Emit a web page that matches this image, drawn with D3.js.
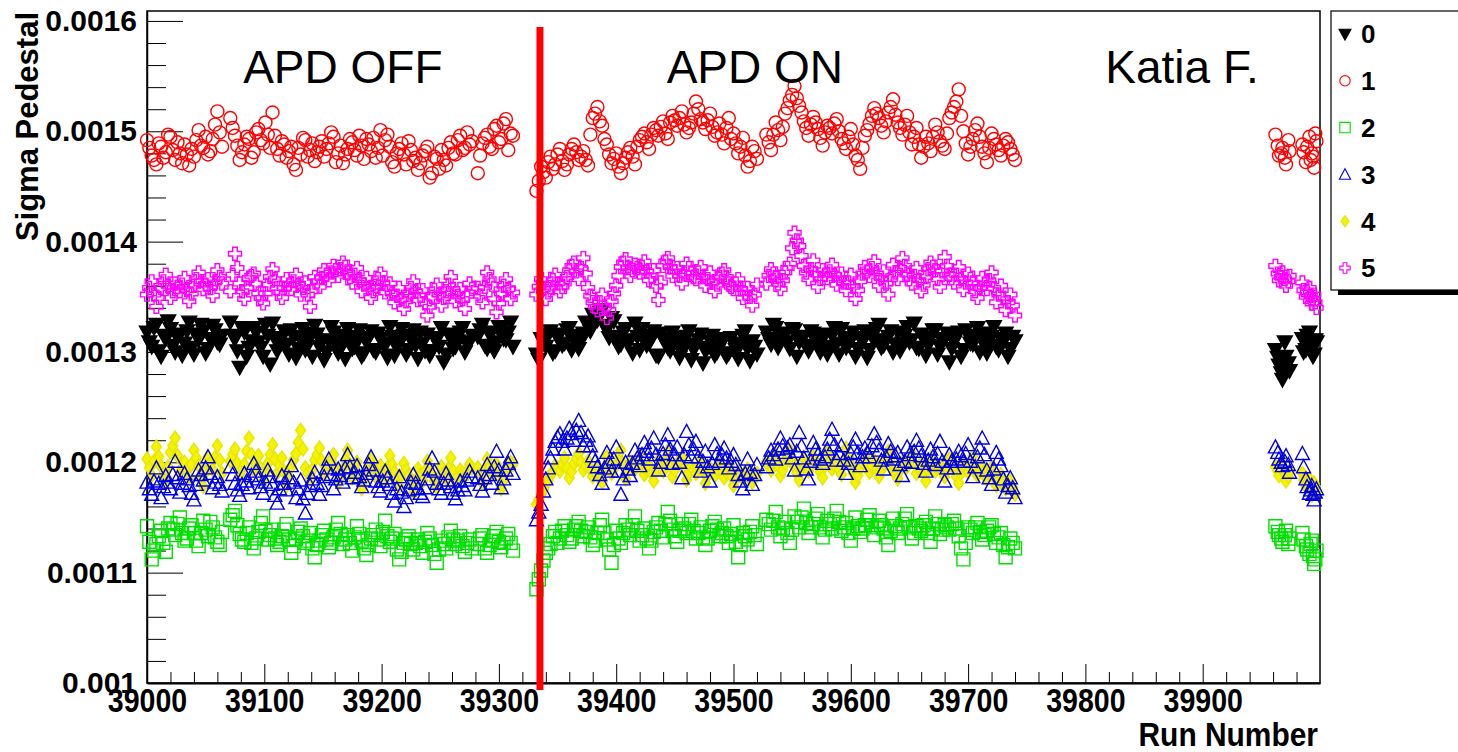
<!DOCTYPE html>
<html>
<head>
<meta charset="utf-8">
<script src="https://cdn.jsdelivr.net/npm/d3@7"></script>
<style>
body { margin: 0; background: #fff; }
svg text { font-family: "Liberation Sans", Arial, Helvetica, sans-serif; }
</style>
</head>
<body>
<script>
// run numbers, first pass (every 4th run)
const runs = [
  39000,39004,39008,39012,39016,39020,39024,39028,39032,39036,39040,39044,39048,39052,39056,39060,39064,
  39071,39075,39079,39083,39087,39091,39095,39099,39103,39107,39111,39115,39119,39123,39127,39131,39135,39139,39143,39147,
  39151,39155,39159,39163,39167,39171,39175,39179,39183,39187,39191,39195,39199,39203,39207,39211,39215,39219,39223,39227,
  39231,39235,39239,39243,39247,39251,39255,39259,39263,39267,39271,39275,
  39282,39286,39290,39294,39298,39302,39306,39310,
  39332,39336,39340,39344,39348,39352,39356,39360,39364,39368,39372,39376,39380,39384,39388,39392,39396,39400,39404,39408,
  39412,39416,39420,39424,39428,39432,39436,39440,39444,39448,39452,39456,39460,39464,39468,39472,39476,39480,39484,39488,
  39492,39496,39500,39504,39508,39512,39516,39520,
  39528,39532,39536,39540,39544,39548,39552,39556,39560,39564,39568,39572,39576,39580,39584,39588,39592,39596,39600,39604,
  39608,39612,39616,39620,39624,39628,39632,39636,39640,39644,39648,39652,39656,39660,39664,39668,39672,39676,39680,39684,
  39688,39692,39696,39700,39704,39708,39712,39716,39720,39724,39728,39732,39736,39740,
  39962,39965,39968,39971,39974,
  39985,39988,39991,39993,39995,39997
];
// run numbers, second pass (the runs in between)
const runs2 = [
  39002,39006,39010,39014,39018,39022,39026,39030,39034,39038,39042,39046,39050,39054,39058,39062,
  39073,39077,39081,39085,39089,39093,39097,39101,39105,39109,39113,39117,39121,39125,39129,39133,39137,39141,39145,39149,
  39153,39157,39161,39165,39169,39173,39177,39181,39185,39189,39193,39197,39201,39205,39209,39213,39217,39221,39225,39229,
  39233,39237,39241,39245,39249,39253,39257,39261,39265,39269,39273,39277,
  39284,39288,39292,39296,39300,39304,39308,39312,
  39334,39338,39342,39346,39350,39354,39358,39362,39366,39370,39374,39378,39382,39386,39390,39394,39398,39402,39406,39410,
  39414,39418,39422,39426,39430,39434,39438,39442,39446,39450,39454,39458,39462,39466,39470,39474,39478,39482,39486,39490,
  39494,39498,39502,39506,39510,39514,39518,
  39530,39534,39538,39542,39546,39550,39554,39558,39562,39566,39570,39574,39578,39582,39586,39590,39594,39598,39602,39606,
  39610,39614,39618,39622,39626,39630,39634,39638,39642,39646,39650,39654,39658,39662,39666,39670,39674,39678,39682,39686,
  39690,39694,39698,39702,39706,39710,39714,39718,39722,39726,39730,39734,39738,
  39964,39967,39970,39973,
  39986,39989,39992,39994,39996
];

// sigma pedestal per channel (first pass)
const ch0 = [
  0.001318,0.001305,0.001325,0.001296,0.001312,0.001321,0.001300,0.001316,0.001308,0.001327,0.001298,0.001311,0.001319,0.001303,0.001324,0.001309,0.001315,
  0.001327,0.001312,0.001286,0.001318,0.001304,0.001322,0.001309,0.001296,0.001315,0.001326,
  0.001301,0.001313,0.001307,0.001320,0.001295,0.001311,0.001302,0.001317,0.001324,0.001305,
  0.001293,0.001310,0.001318,0.001299,0.001308,0.001321,0.001303,0.001314,0.001296,0.001309,
  0.001319,0.001300,0.001312,0.001306,0.001323,0.001297,0.001310,0.001315,0.001302,0.001320,
  0.001294,0.001308,0.001316,0.001301,0.001311,0.001322,0.001298,0.001313,0.001305,0.001318,
  0.001300,0.001309,
  0.001314,0.001325,0.001303,0.001318,0.001309,0.001322,0.001311,0.001327,
  0.001298,0.001312,0.001305,0.001319,0.001301,0.001316,0.001308,0.001322,0.001311,0.001303,
  0.001317,0.001325,0.001334,0.001329,0.001338,0.001320,0.001331,0.001314,0.001307,0.001321,
  0.001311,0.001326,0.001302,0.001315,0.001308,0.001319,0.001296,0.001312,0.001304,0.001318,
  0.001309,0.001300,0.001314,0.001293,0.001307,0.001316,0.001301,0.001310,0.001297,0.001305,
  0.001312,0.001299,0.001308,0.001294,0.001315,0.001303,0.001310,0.001298,
  0.001318,0.001307,0.001322,0.001311,0.001316,0.001303,0.001320,0.001309,0.001314,0.001301,
  0.001317,0.001306,0.001312,0.001298,0.001315,0.001308,0.001321,0.001304,0.001311,0.001296,
  0.001313,0.001319,0.001302,0.001310,0.001325,0.001306,0.001314,0.001300,0.001318,0.001308,
  0.001323,0.001311,0.001304,0.001316,0.001297,0.001313,0.001320,0.001305,0.001312,0.001291,
  0.001309,0.001318,0.001302,0.001315,0.001307,0.001322,0.001310,0.001299,0.001314,0.001305,
  0.001312,0.001317,0.001303,0.001310,
  0.001302,0.001288,0.001275,0.001296,0.001283,
  0.001312,0.001302,0.001318,0.001305,0.001298,0.001309
];
const ch1 = [
  0.001492,0.001478,0.001470,0.001486,0.001481,0.001495,0.001474,0.001480,0.001488,0.001469,0.001477,0.001501,0.001485,0.001479,0.001493,0.001518,0.001486,
  0.001512,0.001496,0.001474,0.001488,0.001493,0.001481,0.001502,0.001489,0.001497,0.001517,
  0.001484,0.001491,0.001476,0.001486,0.001465,0.001479,0.001492,0.001483,0.001473,0.001486,
  0.001477,0.001489,0.001495,0.001480,0.001471,0.001484,0.001490,0.001478,0.001487,0.001493,
  0.001482,0.001476,0.001501,0.001492,0.001486,0.001468,0.001484,0.001479,0.001491,0.001473,
  0.001465,0.001478,0.001486,0.001462,0.001475,0.001483,0.001469,0.001490,0.001479,0.001496,
  0.001485,0.001488,
  0.001462,0.001489,0.001497,0.001484,0.001505,0.001493,0.001511,0.001498,
  0.001446,0.001468,0.001458,0.001477,0.001470,0.001484,0.001465,0.001479,0.001488,0.001474,
  0.001482,0.001469,0.001512,0.001522,0.001505,0.001488,0.001471,0.001480,0.001462,0.001476,
  0.001485,0.001470,0.001492,0.001498,0.001484,0.001503,0.001496,0.001509,0.001493,0.001514,
  0.001505,0.001518,0.001499,0.001508,0.001527,0.001511,0.001502,0.001516,0.001496,0.001507,
  0.001489,0.001512,0.001498,0.001480,0.001494,0.001468,0.001486,0.001475,
  0.001497,0.001483,0.001508,0.001492,0.001516,0.001528,0.001541,0.001523,0.001509,0.001496,
  0.001513,0.001502,0.001487,0.001505,0.001498,0.001511,0.001493,0.001484,0.001502,0.001478,
  0.001466,0.001496,0.001507,0.001521,0.001512,0.001499,0.001517,0.001529,0.001508,0.001497,
  0.001514,0.001488,0.001503,0.001476,0.001495,0.001482,0.001506,0.001491,0.001484,0.001512,
  0.001522,0.001538,0.001500,0.001479,0.001493,0.001507,0.001486,0.001472,0.001498,0.001488,
  0.001478,0.001493,0.001484,0.001474,
  0.001497,0.001478,0.001485,0.001470,0.001482,
  0.001488,0.001472,0.001495,0.001480,0.001467,0.001491
];
const ch2 = [
  0.001142,0.001112,0.001126,0.001138,0.001119,0.001145,0.001134,0.001150,0.001129,0.001140,0.001136,0.001124,0.001147,0.001133,0.001141,0.001128,0.001137,
  0.001148,0.001156,0.001135,0.001128,0.001141,0.001122,0.001137,0.001151,0.001130,0.001139,
  0.001125,0.001133,0.001144,0.001118,0.001131,0.001140,0.001127,0.001136,0.001114,0.001129,
  0.001138,0.001123,0.001132,0.001145,0.001126,0.001134,0.001120,0.001142,0.001129,0.001116,
  0.001131,0.001139,0.001124,0.001147,0.001128,0.001135,0.001112,0.001127,0.001133,0.001121,
  0.001130,0.001118,0.001136,0.001125,0.001109,0.001129,0.001122,0.001138,0.001126,0.001133,
  0.001119,0.001130,
  0.001126,0.001134,0.001118,0.001129,0.001137,0.001123,0.001131,0.001127,
  0.001085,0.001102,0.001118,0.001126,0.001137,0.001131,0.001142,0.001128,0.001139,0.001146,
  0.001133,0.001141,0.001125,0.001136,0.001148,0.001130,0.001109,0.001138,0.001127,0.001143,
  0.001134,0.001151,0.001129,0.001140,0.001122,0.001137,0.001145,0.001132,0.001155,0.001139,
  0.001128,0.001144,0.001136,0.001148,0.001131,0.001141,0.001125,0.001138,0.001146,0.001133,
  0.001140,0.001127,0.001143,0.001114,0.001136,0.001130,0.001142,0.001126,
  0.001148,0.001139,0.001155,0.001133,0.001146,0.001127,0.001151,0.001141,0.001158,0.001136,
  0.001144,0.001153,0.001132,0.001147,0.001140,0.001156,0.001138,0.001145,0.001129,0.001150,
  0.001137,0.001143,0.001152,0.001134,0.001147,0.001140,0.001125,0.001149,0.001136,0.001144,
  0.001153,0.001131,0.001142,0.001138,0.001146,0.001128,0.001151,0.001135,0.001143,0.001139,
  0.001147,0.001133,0.001112,0.001141,0.001136,0.001145,0.001130,0.001138,0.001143,0.001127,
  0.001136,0.001114,0.001131,0.001122,
  0.001142,0.001134,0.001128,0.001138,0.001131,
  0.001136,0.001124,0.001117,0.001129,0.001108,0.001120
];
const ch3 = [
  0.001182,0.001171,0.001195,0.001168,0.001188,0.001176,0.001201,0.001173,0.001190,0.001179,0.001166,0.001193,0.001184,0.001205,0.001177,0.001187,0.001174,
  0.001196,0.001181,0.001170,0.001190,0.001177,0.001199,0.001185,0.001172,0.001193,0.001180,
  0.001163,0.001188,0.001175,0.001197,0.001168,0.001184,0.001154,0.001179,0.001191,0.001171,
  0.001187,0.001203,0.001176,0.001194,0.001182,0.001207,0.001186,0.001197,0.001178,0.001190,
  0.001205,0.001183,0.001174,0.001192,0.001180,0.001165,0.001187,0.001160,0.001175,0.001189,
  0.001176,0.001169,0.001185,0.001204,0.001181,0.001172,0.001190,0.001178,0.001167,0.001183,
  0.001175,0.001192,
  0.001186,0.001174,0.001198,0.001181,0.001210,0.001177,0.001193,0.001205,
  0.001148,0.001162,0.001185,0.001204,0.001219,0.001226,0.001212,0.001231,0.001220,0.001238,
  0.001215,0.001224,0.001206,0.001196,0.001181,0.001209,0.001192,0.001214,0.001171,0.001200,
  0.001188,0.001211,0.001197,0.001218,0.001203,0.001222,0.001193,0.001208,0.001225,0.001199,
  0.001214,0.001186,0.001228,0.001205,0.001219,0.001192,0.001210,0.001183,0.001216,0.001201,
  0.001213,0.001195,0.001207,0.001189,0.001176,0.001203,0.001180,0.001198,
  0.001196,0.001211,0.001203,0.001222,0.001209,0.001216,0.001193,0.001227,0.001204,0.001185,
  0.001218,0.001207,0.001199,0.001212,0.001230,0.001202,0.001215,0.001190,0.001208,0.001221,
  0.001197,0.001213,0.001205,0.001226,0.001211,0.001194,0.001217,0.001203,0.001209,0.001188,
  0.001214,0.001200,0.001220,0.001206,0.001192,0.001212,0.001198,0.001219,0.001183,0.001207,
  0.001195,0.001210,0.001201,0.001216,0.001187,0.001205,0.001222,0.001193,0.001180,0.001209,
  0.001197,0.001173,0.001186,0.001168,
  0.001214,0.001203,0.001197,0.001206,0.001191,
  0.001208,0.001185,0.001172,0.001179,0.001166,0.001176
];
const ch4 = [
  0.001203,0.001188,0.001214,0.001196,0.001182,0.001209,0.001222,0.001191,0.001200,0.001186,0.001211,0.001197,0.001178,0.001205,0.001193,0.001215,0.001190,
  0.001201,0.001212,0.001187,0.001198,0.001222,0.001193,0.001206,0.001183,0.001199,0.001216,
  0.001190,0.001204,0.001179,0.001196,0.001208,0.001229,0.001195,0.001185,0.001202,0.001213,
  0.001189,0.001198,0.001207,0.001181,0.001194,0.001211,0.001186,0.001200,0.001176,0.001192,
  0.001203,0.001187,0.001197,0.001184,0.001206,0.001191,0.001178,0.001199,0.001188,0.001172,
  0.001194,0.001183,0.001201,0.001189,0.001177,0.001196,0.001185,0.001204,0.001180,0.001193,
  0.001186,0.001198,
  0.001195,0.001181,0.001203,0.001189,0.001198,0.001176,0.001192,0.001200,
  0.001162,0.001171,0.001180,0.001188,0.001197,0.001192,0.001204,0.001186,0.001199,0.001208,
  0.001193,0.001201,0.001187,0.001196,0.001182,0.001205,0.001190,0.001198,0.001211,0.001185,
  0.001200,0.001194,0.001207,0.001189,0.001197,0.001183,0.001202,0.001192,0.001210,0.001187,
  0.001199,0.001205,0.001184,0.001196,0.001190,0.001203,0.001181,0.001195,0.001188,0.001200,
  0.001186,0.001197,0.001179,0.001192,0.001185,0.001194,0.001182,0.001190,
  0.001201,0.001193,0.001207,0.001188,0.001199,0.001211,0.001196,0.001184,0.001203,0.001192,
  0.001205,0.001197,0.001186,0.001209,0.001194,0.001200,0.001189,0.001213,0.001198,0.001182,
  0.001195,0.001206,0.001191,0.001202,0.001187,0.001199,0.001210,0.001193,0.001185,0.001201,
  0.001196,0.001208,0.001190,0.001199,0.001183,0.001204,0.001192,0.001198,0.001187,0.001203,
  0.001194,0.001181,0.001200,0.001191,0.001206,0.001188,0.001197,0.001185,0.001195,0.001179,
  0.001189,0.001176,0.001184,0.001171,
  0.001196,0.001188,0.001201,0.001183,0.001192,
  0.001190,0.001178,0.001185,0.001170,0.001181,0.001174
];
const ch5 = [
  0.001352,0.001364,0.001341,0.001358,0.001370,0.001349,0.001362,0.001355,0.001367,0.001346,0.001360,0.001372,0.001357,0.001366,0.001351,0.001374,0.001362,
  0.001355,0.001389,0.001362,0.001348,0.001367,0.001371,0.001353,0.001344,0.001361,0.001375,
  0.001358,0.001349,0.001366,0.001357,0.001370,0.001352,0.001363,0.001341,0.001368,0.001359,
  0.001374,0.001365,0.001378,0.001369,0.001381,0.001372,0.001363,0.001376,0.001355,0.001367,
  0.001349,0.001360,0.001371,0.001354,0.001362,0.001345,0.001358,0.001339,0.001352,0.001364,
  0.001347,0.001356,0.001333,0.001350,0.001361,0.001342,0.001355,0.001368,0.001346,0.001357,
  0.001339,0.001362,
  0.001358,0.001345,0.001372,0.001361,0.001336,0.001353,0.001366,0.001348,
  0.001352,0.001366,0.001348,0.001359,0.001370,0.001355,0.001362,0.001374,0.001381,0.001366,
  0.001385,0.001358,0.001345,0.001338,0.001352,0.001331,0.001346,0.001360,0.001377,0.001384,
  0.001369,0.001379,0.001372,0.001382,0.001365,0.001374,0.001347,0.001378,0.001385,0.001369,
  0.001376,0.001362,0.001380,0.001371,0.001366,0.001377,0.001360,0.001372,0.001355,0.001368,
  0.001374,0.001362,0.001357,0.001366,0.001349,0.001358,0.001342,0.001361,
  0.001362,0.001375,0.001368,0.001357,0.001372,0.001380,0.001408,0.001396,0.001378,0.001366,
  0.001383,0.001359,0.001374,0.001367,0.001379,0.001361,0.001371,0.001356,0.001370,0.001348,
  0.001364,0.001377,0.001369,0.001382,0.001360,0.001373,0.001352,0.001379,0.001366,0.001385,
  0.001371,0.001362,0.001376,0.001355,0.001368,0.001381,0.001374,0.001359,0.001386,0.001370,
  0.001363,0.001377,0.001356,0.001371,0.001362,0.001349,0.001367,0.001357,0.001372,0.001345,
  0.001360,0.001338,0.001352,0.001333,
  0.001378,0.001365,0.001372,0.001360,0.001369,
  0.001363,0.001350,0.001358,0.001344,0.001352,0.001340
];

// sigma pedestal per channel (second pass, runs2)
const ch0b = [
  0.001309,0.001322,0.001301,0.001315,0.001328,0.001306,0.001313,0.001297,0.001319,0.001304,0.001316,0.001325,0.001299,0.001312,0.001320,0.001307,
  0.001315,0.001301,0.001322,0.001296,0.001310,0.001318,0.001304,0.001325,0.001289,0.001312,
  0.001306,0.001319,0.001298,0.001314,0.001303,0.001321,0.001309,0.001296,0.001316,0.001311,
  0.001300,0.001323,0.001307,0.001315,0.001294,0.001312,0.001305,0.001320,0.001299,0.001313,
  0.001302,0.001317,0.001308,0.001295,0.001314,0.001304,0.001321,0.001298,0.001311,0.001306,
  0.001318,0.001301,0.001297,0.001313,0.001305,0.001291,0.001316,0.001303,0.001310,0.001322,
  0.001307,0.001315,
  0.001320,0.001306,0.001316,0.001301,0.001323,0.001312,0.001318,0.001305,
  0.001293,0.001308,0.001316,0.001299,0.001313,0.001306,0.001320,0.001302,0.001315,0.001310,
  0.001327,0.001319,0.001330,0.001336,0.001324,0.001313,0.001328,0.001305,0.001318,0.001309,
  0.001299,0.001314,0.001321,0.001306,0.001312,0.001297,0.001317,0.001308,0.001301,0.001313,
  0.001295,0.001306,0.001319,0.001302,0.001311,0.001290,0.001304,0.001315,0.001300,0.001309,
  0.001296,0.001313,0.001302,0.001307,0.001319,0.001292,0.001305,
  0.001312,0.001325,0.001304,0.001317,0.001309,0.001321,0.001296,0.001313,0.001306,0.001319,
  0.001310,0.001300,0.001316,0.001305,0.001322,0.001298,0.001313,0.001307,0.001318,0.001303,
  0.001309,0.001295,0.001316,0.001321,0.001304,0.001311,0.001319,0.001307,0.001301,0.001315,
  0.001309,0.001326,0.001303,0.001312,0.001306,0.001320,0.001298,0.001310,0.001317,0.001303,
  0.001314,0.001296,0.001320,0.001308,0.001312,0.001300,0.001317,0.001306,0.001323,0.001302,
  0.001309,0.001296,0.001314,
  0.001295,0.001281,0.001309,0.001290,
  0.001300,0.001315,0.001307,0.001296,0.001311
];
const ch1b = [
  0.001485,0.001474,0.001489,0.001476,0.001497,0.001483,0.001490,0.001471,0.001479,0.001484,0.001492,0.001487,0.001495,0.001482,0.001506,0.001499,
  0.001503,0.001487,0.001481,0.001495,0.001476,0.001499,0.001492,0.001508,0.001485,0.001496,
  0.001478,0.001488,0.001482,0.001470,0.001485,0.001494,0.001477,0.001489,0.001481,0.001491,
  0.001484,0.001499,0.001472,0.001487,0.001479,0.001493,0.001483,0.001496,0.001475,0.001488,
  0.001494,0.001485,0.001478,0.001497,0.001472,0.001480,0.001489,0.001470,0.001483,0.001476,
  0.001471,0.001482,0.001458,0.001477,0.001466,0.001474,0.001485,0.001480,0.001492,0.001483,
  0.001499,0.001491,
  0.001478,0.001494,0.001486,0.001502,0.001490,0.001507,0.001483,0.001496,
  0.001455,0.001463,0.001472,0.001466,0.001479,0.001473,0.001470,0.001484,0.001481,0.001477,
  0.001474,0.001497,0.001516,0.001509,0.001493,0.001479,0.001475,0.001468,0.001471,0.001481,
  0.001477,0.001486,0.001495,0.001490,0.001497,0.001501,0.001504,0.001498,0.001508,0.001510,
  0.001512,0.001506,0.001503,0.001516,0.001520,0.001508,0.001510,0.001504,0.001499,0.001497,
  0.001503,0.001493,0.001489,0.001486,0.001478,0.001473,0.001482,
  0.001490,0.001497,0.001501,0.001504,0.001521,0.001533,0.001530,0.001517,0.001503,0.001506,
  0.001508,0.001494,0.001499,0.001503,0.001507,0.001500,0.001489,0.001495,0.001488,0.001474,
  0.001485,0.001501,0.001514,0.001516,0.001505,0.001509,0.001522,0.001515,0.001503,0.001506,
  0.001499,0.001495,0.001488,0.001486,0.001489,0.001495,0.001499,0.001487,0.001498,0.001517,
  0.001527,0.001514,0.001489,0.001486,0.001501,0.001495,0.001480,0.001485,0.001493,0.001483,
  0.001487,0.001490,0.001479,
  0.001487,0.001480,0.001476,0.001492,
  0.001481,0.001486,0.001474,0.001477,0.001498
];
const ch2b = [
  0.001128,0.001120,0.001133,0.001127,0.001140,0.001139,0.001144,0.001136,0.001131,0.001143,0.001129,0.001136,0.001139,0.001146,0.001132,0.001125,
  0.001152,0.001143,0.001130,0.001136,0.001127,0.001131,0.001145,0.001138,0.001134,0.001131,
  0.001128,0.001139,0.001130,0.001124,0.001137,0.001133,0.001129,0.001122,0.001125,0.001134,
  0.001130,0.001127,0.001139,0.001135,0.001130,0.001127,0.001132,0.001135,0.001122,0.001125,
  0.001134,0.001130,0.001137,0.001133,0.001131,0.001121,0.001119,0.001130,0.001126,0.001127,
  0.001124,0.001128,0.001131,0.001117,0.001121,0.001126,0.001132,0.001130,0.001129,0.001124,
  0.001127,0.001122,
  0.001131,0.001122,0.001125,0.001133,0.001128,0.001127,0.001135,0.001120,
  0.001094,0.001111,0.001122,0.001133,0.001127,0.001138,0.001134,0.001131,0.001142,0.001138,
  0.001137,0.001132,0.001129,0.001143,0.001136,0.001121,0.001125,0.001131,0.001136,0.001139,
  0.001143,0.001138,0.001134,0.001131,0.001129,0.001141,0.001138,0.001144,0.001147,0.001133,
  0.001138,0.001140,0.001144,0.001138,0.001136,0.001132,0.001131,0.001142,0.001139,0.001136,
  0.001133,0.001135,0.001128,0.001125,0.001133,0.001137,0.001134,
  0.001144,0.001147,0.001141,0.001140,0.001136,0.001139,0.001146,0.001150,0.001145,0.001141,
  0.001149,0.001141,0.001139,0.001144,0.001149,0.001146,0.001141,0.001136,0.001140,0.001142,
  0.001140,0.001148,0.001143,0.001141,0.001143,0.001132,0.001138,0.001142,0.001140,0.001149,
  0.001141,0.001136,0.001140,0.001143,0.001136,0.001140,0.001144,0.001139,0.001141,0.001144,
  0.001140,0.001122,0.001127,0.001139,0.001141,0.001137,0.001134,0.001141,0.001135,0.001132,
  0.001125,0.001123,0.001127,
  0.001137,0.001131,0.001134,0.001126,
  0.001130,0.001121,0.001126,0.001115,0.001112
];
const ch3b = [
  0.001176,0.001183,0.001181,0.001178,0.001182,0.001189,0.001186,0.001181,0.001185,0.001172,0.001180,0.001189,0.001195,0.001190,0.001182,0.001180,
  0.001189,0.001175,0.001180,0.001183,0.001188,0.001192,0.001178,0.001182,0.001187,0.001170,
  0.001176,0.001181,0.001186,0.001182,0.001176,0.001167,0.001172,0.001185,0.001181,0.001179,
  0.001195,0.001189,0.001185,0.001188,0.001195,0.001196,0.001191,0.001187,0.001184,0.001198,
  0.001193,0.001178,0.001183,0.001186,0.001172,0.001176,0.001173,0.001168,0.001182,0.001181,
  0.001172,0.001177,0.001194,0.001192,0.001176,0.001181,0.001184,0.001172,0.001175,0.001179,
  0.001184,0.001187,
  0.001180,0.001186,0.001189,0.001196,0.001193,0.001185,0.001199,0.001190,
  0.001155,0.001174,0.001195,0.001212,0.001223,0.001219,0.001222,0.001226,0.001229,0.001227,
  0.001220,0.001215,0.001201,0.001189,0.001195,0.001200,0.001203,0.001192,0.001185,0.001194,
  0.001199,0.001204,0.001207,0.001210,0.001213,0.001207,0.001200,0.001216,0.001212,0.001207,
  0.001200,0.001207,0.001216,0.001212,0.001205,0.001201,0.001196,0.001199,0.001208,0.001207,
  0.001204,0.001201,0.001198,0.001183,0.001190,0.001191,0.001189,
  0.001204,0.001207,0.001212,0.001215,0.001213,0.001204,0.001210,0.001215,0.001194,0.001201,
  0.001212,0.001203,0.001205,0.001221,0.001216,0.001208,0.001202,0.001199,0.001214,0.001209,
  0.001205,0.001209,0.001215,0.001218,0.001202,0.001205,0.001210,0.001206,0.001198,0.001201,
  0.001207,0.001210,0.001213,0.001199,0.001202,0.001205,0.001208,0.001201,0.001195,0.001201,
  0.001203,0.001206,0.001208,0.001201,0.001196,0.001213,0.001207,0.001186,0.001194,0.001203,
  0.001185,0.001179,0.001177,
  0.001209,0.001200,0.001201,0.001198,
  0.001196,0.001178,0.001175,0.001171,0.001173
];
const ch4b = [
  0.001195,0.001201,0.001205,0.001189,0.001196,0.001215,0.001206,0.001195,0.001193,0.001198,0.001204,0.001187,0.001191,0.001199,0.001204,0.001202,
  0.001207,0.001199,0.001193,0.001210,0.001207,0.001199,0.001194,0.001191,0.001207,0.001203,
  0.001197,0.001191,0.001187,0.001202,0.001218,0.001212,0.001190,0.001193,0.001207,0.001201,
  0.001193,0.001202,0.001194,0.001187,0.001202,0.001198,0.001193,0.001188,0.001184,0.001197,
  0.001195,0.001192,0.001190,0.001195,0.001198,0.001185,0.001188,0.001193,0.001180,0.001183,
  0.001188,0.001192,0.001195,0.001183,0.001186,0.001190,0.001194,0.001192,0.001187,0.001190,
  0.001192,0.001195,
  0.001188,0.001192,0.001196,0.001193,0.001187,0.001184,0.001196,0.001198,
  0.001166,0.001175,0.001184,0.001192,0.001195,0.001198,0.001195,0.001192,0.001203,0.001200,
  0.001197,0.001194,0.001191,0.001189,0.001193,0.001197,0.001194,0.001204,0.001198,0.001192,
  0.001197,0.001200,0.001198,0.001193,0.001190,0.001192,0.001197,0.001201,0.001198,0.001193,
  0.001202,0.001194,0.001190,0.001193,0.001196,0.001192,0.001188,0.001191,0.001194,0.001193,
  0.001191,0.001188,0.001185,0.001188,0.001190,0.001188,0.001186,
  0.001197,0.001200,0.001197,0.001193,0.001205,0.001203,0.001190,0.001193,0.001197,0.001198,
  0.001201,0.001191,0.001197,0.001201,0.001197,0.001194,0.001201,0.001205,0.001190,0.001188,
  0.001200,0.001198,0.001196,0.001194,0.001193,0.001204,0.001201,0.001189,0.001193,0.001198,
  0.001202,0.001199,0.001194,0.001191,0.001193,0.001198,0.001195,0.001192,0.001195,0.001198,
  0.001187,0.001190,0.001195,0.001198,0.001197,0.001192,0.001191,0.001190,0.001187,0.001184,
  0.001182,0.001180,0.001177,
  0.001192,0.001194,0.001191,0.001187,
  0.001184,0.001181,0.001177,0.001176,0.001178
];
const ch5b = [
  0.001358,0.001352,0.001349,0.001364,0.001360,0.001355,0.001359,0.001361,0.001356,0.001353,0.001366,0.001364,0.001361,0.001358,0.001363,0.001368,
  0.001370,0.001376,0.001355,0.001358,0.001369,0.001362,0.001349,0.001353,0.001368,0.001366,
  0.001354,0.001358,0.001361,0.001364,0.001361,0.001358,0.001352,0.001355,0.001364,0.001367,
  0.001370,0.001372,0.001374,0.001375,0.001377,0.001368,0.001370,0.001365,0.001361,0.001358,
  0.001355,0.001366,0.001363,0.001358,0.001353,0.001351,0.001348,0.001346,0.001358,0.001355,
  0.001351,0.001344,0.001341,0.001356,0.001352,0.001349,0.001361,0.001357,0.001351,0.001348,
  0.001351,0.001357,
  0.001351,0.001359,0.001366,0.001348,0.001344,0.001360,0.001357,0.001354,
  0.001359,0.001357,0.001354,0.001365,0.001362,0.001359,0.001368,0.001378,0.001373,0.001376,
  0.001371,0.001351,0.001341,0.001345,0.001340,0.001338,0.001353,0.001369,0.001381,0.001376,
  0.001374,0.001376,0.001377,0.001373,0.001369,0.001360,0.001363,0.001382,0.001377,0.001373,
  0.001369,0.001371,0.001376,0.001368,0.001372,0.001368,0.001366,0.001363,0.001361,0.001371,
  0.001368,0.001359,0.001362,0.001357,0.001353,0.001350,0.001352,
  0.001369,0.001371,0.001362,0.001365,0.001376,0.001394,0.001401,0.001387,0.001372,0.001375,
  0.001371,0.001366,0.001370,0.001373,0.001370,0.001366,0.001363,0.001363,0.001359,0.001356,
  0.001371,0.001373,0.001376,0.001371,0.001367,0.001362,0.001366,0.001372,0.001376,0.001378,
  0.001366,0.001369,0.001365,0.001361,0.001375,0.001377,0.001366,0.001373,0.001378,0.001367,
  0.001370,0.001366,0.001363,0.001366,0.001355,0.001358,0.001362,0.001365,0.001358,0.001352,
  0.001349,0.001345,0.001342,
  0.001371,0.001368,0.001366,0.001364,
  0.001356,0.001354,0.001351,0.001348,0.001345
];

const channelNames = ["0", "1", "2", "3", "4", "5"];
const firstPass = [ch0, ch1, ch2, ch3, ch4, ch5];
const secondPass = [ch0b, ch1b, ch2b, ch3b, ch4b, ch5b];

const xTicks = [39000, 39100, 39200, 39300, 39400, 39500, 39600, 39700, 39800, 39900];
const xTickLabels = ["39000", "39100", "39200", "39300", "39400", "39500", "39600", "39700", "39800", "39900"];
const yTicks = [0.001, 0.0011, 0.0012, 0.0013, 0.0014, 0.0015, 0.0016];
const yTickLabels = ["0.001", "0.0011", "0.0012", "0.0013", "0.0014", "0.0015", "0.0016"];

const notes = ["APD OFF", "APD ON", "Katia F."];
const noteRuns = [39082, 39443, 39817];
const apdSwitchRun = 39335;

const W = 1458, H = 752;
const svg = d3.select("body").append("svg").attr("width", W).attr("height", H);

const x = d3.scaleLinear().domain([39000, 40000]).range([147, 1320]);
const y = d3.scaleLinear().domain([0.001, 0.001609]).range([683, 11]);

// marker shapes (ROOT style 23, 24, 25, 26, 33, 28)
const circle = "M6.5,0A6.5,6.5 0 1,1 -6.5,0A6.5,6.5 0 1,1 6.5,0Z";
const cross = "M-2.3,-6.5H2.3V-2.3H6.5V2.3H2.3V6.5H-2.3V2.3H-6.5V-2.3H-2.3Z";
const markers = [
  { d: "M-7.5,-6L7.5,-6L0,7.5Z", fill: "#000", stroke: "#000" },
  { d: circle, fill: "none", stroke: "#ff0000" },
  { d: "M-6.5,-6.5H6.5V6.5H-6.5Z", fill: "none", stroke: "#00e000" },
  { d: "M0,-7L7,6H-7Z", fill: "none", stroke: "#0000e6" },
  { d: "M0,-7L5,0L0,7L-5,0Z", fill: "#f4f400", stroke: "#e6e600" },
  { d: cross, fill: "none", stroke: "#ff00ff" }
];

// frame
svg.append("rect").attr("x", 147).attr("y", 11).attr("width", 1173).attr("height", 672)
  .attr("fill", "#fff").attr("stroke", "#000").attr("stroke-width", 1.5);

// minor ticks
const xMinor = d3.range(39000, 40001, 20).filter(v => v % 100 !== 0);
const yMinor = d3.range(0, 31).filter(i => i % 5 !== 0).map(i => 0.001 + i * 0.00002);

svg.append("g").attr("transform", "translate(0,683)")
  .call(d3.axisBottom(x).tickValues(xMinor).tickSize(-11).tickSizeOuter(0).tickFormat(""))
  .call(g => g.select(".domain").remove());
svg.append("g").attr("transform", "translate(147,0)")
  .call(d3.axisLeft(y).tickValues(yMinor).tickSize(-19).tickSizeOuter(0).tickFormat(""))
  .call(g => g.select(".domain").remove());

// major ticks + labels
const xAxis = svg.append("g").attr("transform", "translate(0,683)")
  .call(d3.axisBottom(x).tickValues(xTicks).tickSize(-19).tickSizeOuter(0).tickPadding(5)
    .tickFormat((d, i) => xTickLabels[i]));
xAxis.select(".domain").attr("stroke-width", 2);
xAxis.selectAll("text").attr("font-size", 34).attr("font-weight", "bold").attr("fill", "#000")
  .attr("font-family", "Liberation Sans, Arial, sans-serif").attr("transform", "scale(0.84,1)");

const yAxis = svg.append("g").attr("transform", "translate(147,0)")
  .call(d3.axisLeft(y).tickValues(yTicks).tickSize(-36).tickSizeOuter(0).tickPadding(10)
    .tickFormat((d, i) => yTickLabels[i]));
yAxis.select(".domain").attr("stroke-width", 1.5);
yAxis.selectAll("text").attr("font-size", 30).attr("font-weight", "bold").attr("fill", "#000")
  .attr("font-family", "Liberation Sans, Arial, sans-serif");

// axis titles
svg.append("text").attr("transform", "translate(1318,746) scale(0.88,1)")
  .attr("text-anchor", "end").attr("font-size", 34).attr("font-weight", "bold").text("Run Number");
svg.append("text").attr("transform", "translate(38,12) rotate(-90)")
  .attr("text-anchor", "end").attr("font-size", 31).attr("font-weight", "bold").text("Sigma Pedestal");

// points
const drawOrder = [0, 1, 2, 4, 3, 5];
drawOrder.forEach(c => {
  const pts = runs.map((r, i) => [r, firstPass[c][i]])
    .concat(runs2.map((r, i) => [r, secondPass[c][i]]))
    .filter(p => p[1] !== undefined)
    .sort((a, b) => a[0] - b[0]);
  const m = markers[c];
  svg.append("g").selectAll("path").data(pts).join("path")
    .attr("transform", d => `translate(${x(d[0])},${y(d[1])})`)
    .attr("d", m.d).attr("fill", m.fill).attr("stroke", m.stroke).attr("stroke-width", 1.4);
});

// APD switch line
svg.append("line")
  .attr("x1", x(apdSwitchRun)).attr("x2", x(apdSwitchRun))
  .attr("y1", y(0.0015946)).attr("y2", y(0.0009937))
  .attr("stroke", "#ff0000").attr("stroke-width", 7);

// annotations
svg.append("g").selectAll("text").data(notes).join("text")
  .attr("x", (d, i) => x(noteRuns[i]))
  .attr("y", 83).attr("font-size", 46).attr("fill", "#000").text(d => d);

// legend
const lg = svg.append("g");
lg.append("rect").attr("x", 1338).attr("y", 289).attr("width", 140).attr("height", 6).attr("fill", "#000");
lg.append("rect").attr("x", 1331).attr("y", 11).attr("width", 140).attr("height", 279)
  .attr("fill", "#fff").attr("stroke", "#000").attr("stroke-width", 1.2);
channelNames.forEach((name, i) => {
  const cy = 34 + i * 46.8;
  const m = markers[i];
  lg.append("path").attr("transform", `translate(1345,${cy}) scale(0.8)`)
    .attr("d", m.d).attr("fill", m.fill).attr("stroke", m.stroke).attr("stroke-width", 1.4);
  lg.append("text").attr("x", 1361).attr("y", cy).attr("dy", "0.36em")
    .attr("font-size", 26).attr("font-weight", "bold").text(name);
});
</script>
</body>
</html>
